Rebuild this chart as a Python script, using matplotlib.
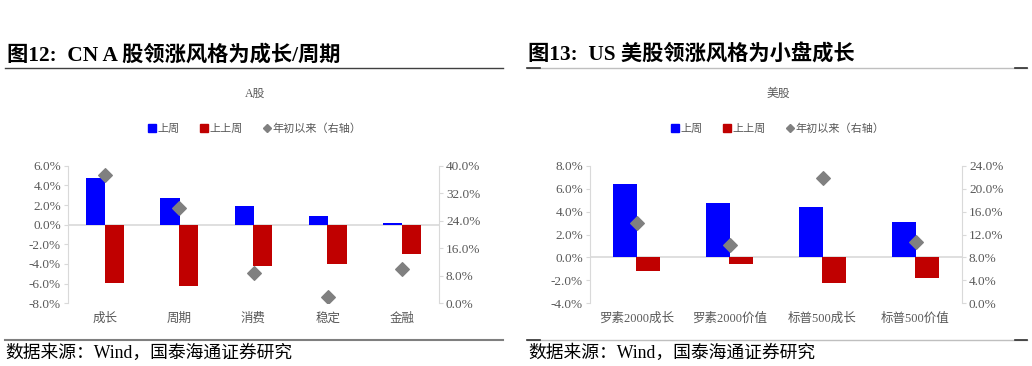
import matplotlib
matplotlib.use("Agg")
import matplotlib.pyplot as plt
from matplotlib.lines import Line2D
import numpy as np

plt.rcParams['font.family'] = ['Liberation Serif', 'Noto Sans CJK SC', 'DejaVu Sans']

# ---------------- data ----------------
cn_categories = ['成长', '周期', '消费', '稳定', '金融']
cn_last_week = [4.7, 2.7, 1.9, 0.9, 0.13]
cn_prev_week = [-5.9, -6.2, -4.2, -4.0, -3.0]
cn_ytd = [37.3, 27.6, 8.9, 1.9, 9.9]

us_categories = ['罗素2000成长', '罗素2000价值', '标普500成长', '标普500价值']
us_last_week = [6.4, 4.75, 4.4, 3.1]
us_prev_week = [-1.2, -0.6, -2.25, -1.8]
us_ytd = [13.95, 10.2, 21.8, 10.75]

left_ticks_cn = [-8, -6, -4, -2, 0, 2, 4, 6]
right_ticks_cn = [0, 8, 16, 24, 32, 40]
left_ticks_us = [-4, -2, 0, 2, 4, 6, 8]
right_ticks_us = [0, 4, 8, 12, 16, 20, 24]

W, H = 1032, 366
BLUE = '#0000FF'
RED = '#C00000'
GREY_D = '#808080'
TXT = '#595959'
AXC = '#d9d9d9'

fig = plt.figure(figsize=(W / 100, H / 100), dpi=100)


def fx(x):
    return x / W


def fy(y):
    return 1 - y / H


def panel(x0, x1, cats, lw, pw, ytd, lt, rt, bw, off, sub, subx):
    y0, y1 = 165.7, 303.3
    ax = fig.add_axes([fx(x0), fy(y1), fx(x1 - x0), (y1 - y0) / H])
    x = np.arange(len(cats))
    ax.bar(x - off, lw, width=bw, color=BLUE, zorder=2)
    ax.bar(x + off, pw, width=bw, color=RED, zorder=2)
    ax.set_xlim(-0.5, len(cats) - 0.5)
    ax.set_ylim(lt[0], lt[-1])
    ax.set_yticks(lt)
    ax.set_yticklabels([f'{v:.1f}%' for v in lt])
    ax.axhline(0, color=AXC, lw=1.2, zorder=1)
    for s in ['top', 'bottom', 'right']:
        ax.spines[s].set_visible(False)
    ax.spines['left'].set_color(AXC)
    ax.tick_params(axis='y', colors=AXC, labelcolor=TXT, labelsize=9.5, length=3, pad=2)
    ax.set_xticks(x)
    ax.set_xticklabels(cats, fontsize=9, color=TXT)
    ax.tick_params(axis='x', length=0, pad=7)
    ax.patch.set_alpha(0)

    ax2 = ax.twinx()
    ax2.scatter(x, ytd, marker='D', s=48, color=GREY_D, zorder=3)
    ax2.set_ylim(rt[0], rt[-1])
    ax2.set_yticks(rt)
    ax2.set_yticklabels([f'{v:.1f}%' for v in rt])
    for s in ['top', 'bottom', 'left']:
        ax2.spines[s].set_visible(False)
    ax2.spines['right'].set_color(AXC)
    ax2.tick_params(axis='y', colors=AXC, labelcolor=TXT, labelsize=9.5, length=3, pad=2)

    # subtitle
    fig.text(fx(subx), fy(94), sub, ha='center', va='center', fontsize=8.5, color=TXT)
    # legend
    handles = [
        Line2D([], [], marker='s', ls='', color=BLUE, markersize=6),
        Line2D([], [], marker='s', ls='', color=RED, markersize=6),
        Line2D([], [], marker='D', ls='', color=GREY_D, markersize=4),
    ]
    fig.legend(handles, ['上周', '上上周', '年初以来（右轴）'], loc='center',
               bbox_to_anchor=(fx(subx), fy(129)), ncol=3, frameon=False,
               fontsize=8, handlelength=0.7, handletextpad=0.15, columnspacing=1.8,
               labelcolor=TXT)
    return ax


panel(68, 439, cn_categories, cn_last_week, cn_prev_week, cn_ytd,
      left_ticks_cn, right_ticks_cn, 0.26, 0.125, 'A股', 255)
panel(590, 962, us_categories, us_last_week, us_prev_week, us_ytd,
      left_ticks_us, right_ticks_us, 0.26, 0.12, '美股', 778)

# titles
fig.text(fx(7), fy(55), '图12:  CN A 股领涨风格为成长/周期', ha='left', va='center',
         fontsize=15.3, fontweight='bold', color='black')
fig.text(fx(528), fy(55), '图13:  US 美股领涨风格为小盘成长', ha='left', va='center',
         fontsize=15.3, fontweight='bold', color='black')


def hline(x0, x1, y, color, lw):
    fig.add_artist(Line2D([fx(x0), fx(x1)], [fy(y), fy(y)], color=color, lw=lw,
                          transform=fig.transFigure))


hline(5, 503, 68, '#404040', 1.0)
hline(527, 1027, 67.5, '#bfbfbf', 1.0)
hline(527, 540, 67.5, '#303030', 1.2)
hline(1015, 1027, 67.5, '#303030', 1.2)

hline(5, 503, 339.5, '#7f7f7f', 1.5)
hline(527, 1027, 339.5, '#bfbfbf', 1.0)
hline(527, 540, 339.5, '#303030', 1.2)
hline(1015, 1027, 339.5, '#303030', 1.2)

fig.text(fx(5), fy(353), '数据来源：Wind，国泰海通证券研究', ha='left', va='center',
         fontsize=12.8, color='black')
fig.text(fx(528), fy(353), '数据来源：Wind，国泰海通证券研究', ha='left', va='center',
         fontsize=12.8, color='black')

fig.savefig('out.png', dpi=100)
